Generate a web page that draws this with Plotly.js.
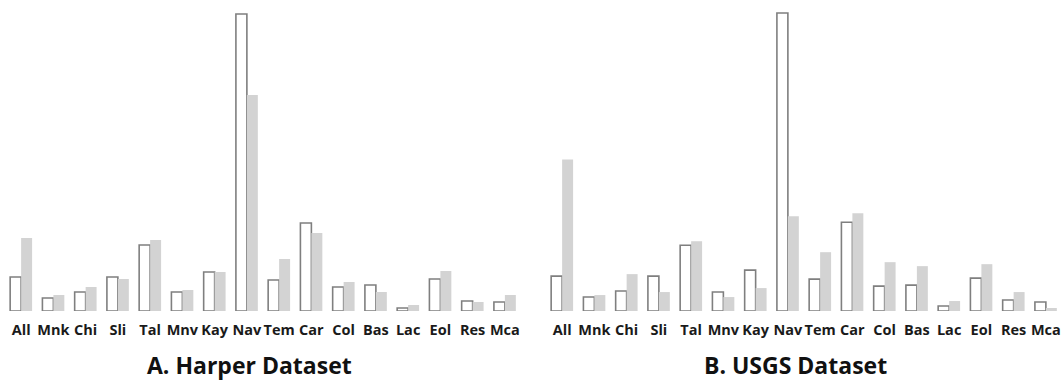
<!DOCTYPE html>
<html>
<head>
<meta charset="utf-8">
<script src="https://cdn.plot.ly/plotly-3.0.1.min.js"></script>
<style>
html,body{margin:0;padding:0;background:#fff;}
#chart{width:1062px;height:381px;}
</style>
</head>
<body>
<div id="chart"></div>
<script>
const categories = ["All","Mnk","Chi","Sli","Tal","Mnv","Kay","Nav","Tem","Car","Col","Bas","Lac","Eol","Res","Mca"];
const harperWhite = [34,13,19,34,66,19,39,297,31,88,24,26,3,32,10,9];
const harperGray  = [73,16,24,32,71,21,39,216,52,78,29,19,6,40,9,16];
const usgsWhite   = [35,14,20,35,66,19,41,299,32,89,25,26,5,33,11,9];
const usgsGray    = [152,16,37,19,70,14,23,95,59,98,49,45,10,47,19,3];
const panelTitles = ["A. Harper Dataset","B. USGS Dataset"];

const W = 1062;
const whiteStyle = {color:"#ffffff", line:{color:"#7f7f7f", width:1.6}};
const grayStyle = {color:"#d3d3d3", line:{width:0}};

const traces = [
  {type:"bar", x:categories, y:harperWhite, marker:whiteStyle, xaxis:"x", yaxis:"y", hoverinfo:"x+y"},
  {type:"bar", x:categories, y:harperGray, marker:grayStyle, xaxis:"x", yaxis:"y", hoverinfo:"x+y"},
  {type:"bar", x:categories, y:usgsWhite, marker:whiteStyle, xaxis:"x2", yaxis:"y2", hoverinfo:"x+y"},
  {type:"bar", x:categories, y:usgsGray, marker:grayStyle, xaxis:"x2", yaxis:"y2", hoverinfo:"x+y"}
];

const tickFont = {family:"Open Sans, sans-serif", size:14.5, color:"#1a1a1a", weight:700};
const xCommon = {showgrid:false, zeroline:false, showline:false, ticks:"", ticklabelstandoff:8, tickfont:tickFont, tickangle:0, fixedrange:true};
const yCommon = {showgrid:false, zeroline:false, showline:false, showticklabels:false, ticks:"", range:[0,300], fixedrange:true};

const titleFont = {family:"Open Sans, sans-serif", size:23, color:"#111111", weight:700};

const layout = {
  width:W, height:381,
  margin:{l:0, r:0, t:11, b:70},
  paper_bgcolor:"#ffffff", plot_bgcolor:"#ffffff",
  showlegend:false,
  barmode:"group", bargap:0.32, bargroupgap:0,
  xaxis:Object.assign({}, xCommon, {domain:[5/W, 521/W], anchor:"y"}),
  yaxis:Object.assign({}, yCommon, {anchor:"x"}),
  xaxis2:Object.assign({}, xCommon, {domain:[546/W, 1], anchor:"y2"}),
  yaxis2:Object.assign({}, yCommon, {anchor:"x2", range:[0,301]}),
  annotations:[
    {text:panelTitles[0], xref:"paper", yref:"paper", x:250/W, y:(311-365)/300, xanchor:"center", yanchor:"middle", showarrow:false, font:titleFont},
    {text:panelTitles[1], xref:"paper", yref:"paper", x:795/W, y:(311-365)/300, xanchor:"center", yanchor:"middle", showarrow:false, font:titleFont}
  ]
};

Plotly.newPlot("chart", traces, layout, {displayModeBar:false, staticPlot:true});
</script>
</body>
</html>
